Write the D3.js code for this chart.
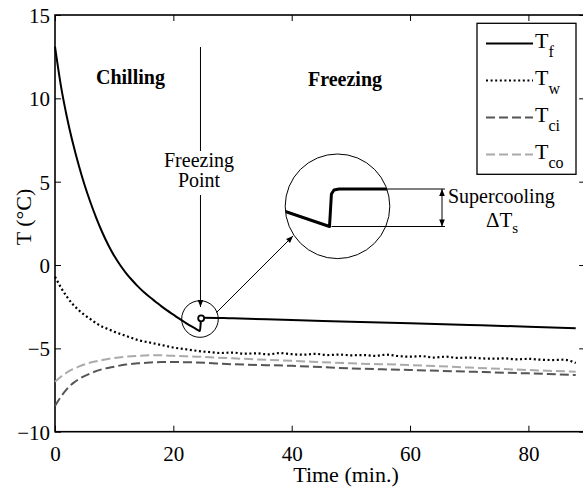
<!DOCTYPE html>
<html>
<head>
<meta charset="utf-8">
<script src="https://cdn.jsdelivr.net/npm/d3@7"></script>
<style>
  body { margin: 0; background: #fff; }
</style>
</head>
<body>
<div id="chart"></div>
<script>
// ---- DATA ----
const tF = [0, 1, 2, 3, 4, 5, 6, 7, 8, 9, 10, 11, 12, 13, 14, 15, 16, 17, 18, 19, 20, 21, 22, 23, 24, 24.5, 24.7, 25, 30, 40, 50, 60, 70, 80, 88];
const valF = [13.1, 10.75, 8.9, 7.35, 6.0, 4.8, 3.75, 2.8, 1.95, 1.2, 0.55, 0.0, -0.48, -0.9, -1.28, -1.62, -1.92, -2.2, -2.48, -2.74, -2.98, -3.22, -3.45, -3.67, -3.87, -3.96, -3.2, -3.16, -3.2, -3.3, -3.4, -3.5, -3.6, -3.7, -3.8];

const tW = [0, 1, 2, 3, 4, 5, 6, 7, 8, 9, 10, 12, 14, 16, 18, 20, 22, 24, 26, 28, 30, 32, 34, 36, 38, 40, 42, 44, 46, 48, 50, 52, 54, 56, 58, 60, 62, 64, 66, 68, 70, 72, 74, 76, 78, 80, 82, 84, 86, 88];
const valW = [-0.7, -1.35, -1.9, -2.35, -2.7, -3.0, -3.25, -3.5, -3.7, -3.85, -4.0, -4.25, -4.5, -4.65, -4.8, -4.95, -5.05, -5.15, -5.22, -5.28, -5.25, -5.32, -5.3, -5.36, -5.28, -5.35, -5.38, -5.33, -5.4, -5.37, -5.42, -5.4, -5.45, -5.38, -5.46, -5.5, -5.47, -5.55, -5.5, -5.57, -5.55, -5.6, -5.62, -5.6, -5.66, -5.63, -5.68, -5.7, -5.68, -5.88];

const tC = [0, 1, 2, 3, 4, 6, 8, 10, 12, 14, 16, 18, 20, 24, 30, 40, 50, 60, 70, 80, 88];
const valCi = [-8.45, -7.9, -7.45, -7.1, -6.85, -6.5, -6.25, -6.1, -5.97, -5.9, -5.85, -5.82, -5.82, -5.85, -5.95, -6.05, -6.2, -6.3, -6.4, -6.5, -6.6];
const valCo = [-7.0, -6.7, -6.45, -6.25, -6.1, -5.85, -5.7, -5.58, -5.5, -5.45, -5.42, -5.42, -5.45, -5.5, -5.6, -5.75, -5.9, -6.0, -6.15, -6.3, -6.4];

// magnified view of the freezing point (inset)
const tInset = [22.9, 24.5, 24.56, 24.64, 24.8, 27];
const valInset = [-3.6, -3.95, -3.3, -3.22, -3.2, -3.2];

const xTicks = [0, 20, 40, 60, 80];
const yTicks = [-10, -5, 0, 5, 10, 15];

const seriesNames = ["f", "w", "ci", "co"];

// ---- LAYOUT ----
const W = 583, H = 489;
const margin = { left: 55, right: 585.2, top: 15, bottom: 431.7 };
const FONT = "'Liberation Serif'";

const svg = d3.select("#chart").append("svg")
    .attr("width", W)
    .attr("height", H);

const defs = svg.append("defs");
defs.append("marker")
    .attr("id", "arr")
    .attr("viewBox", "0 -5 10 10")
    .attr("refX", 10).attr("refY", 0)
    .attr("markerUnits", "userSpaceOnUse")
    .attr("markerWidth", 8).attr("markerHeight", 7)
    .attr("orient", "auto-start-reverse")
    .append("path").attr("d", "M0,-4L10,0L0,4Z").attr("fill", "#000");

let x = d3.scaleLinear().domain([0, 89.6]).range([margin.left, margin.right]);
let y = d3.scaleLinear().domain([-10, 15]).range([margin.bottom, margin.top]);

const fmt = d => d < 0 ? "\u2212" + Math.abs(d) : String(d);

// ---- AXES ----
svg.append("g")
    .attr("transform", "translate(0," + margin.bottom + ")")
    .call(d3.axisBottom(x).tickValues(xTicks).tickSize(-6).tickPadding(10).tickFormat(fmt))
    .call(g => g.select(".domain").remove())
    .selectAll("text").style("font-size", "21px").attr("dy", "0.9em");

svg.append("g")
    .attr("transform", "translate(0," + margin.top + ")")
    .call(d3.axisTop(x).tickValues(xTicks).tickSize(-6).tickFormat(""))
    .call(g => g.select(".domain").remove());

svg.append("g")
    .attr("transform", "translate(" + margin.left + ",0)")
    .call(d3.axisLeft(y).tickValues(yTicks).tickSize(-6).tickPadding(5).tickFormat(fmt))
    .call(g => g.select(".domain").remove())
    .selectAll("text").style("font-size", "21px").attr("dy", "0.35em");

svg.append("g")
    .attr("transform", "translate(" + margin.right + ",0)")
    .call(d3.axisRight(y).tickValues(yTicks).tickSize(-6).tickFormat(""))
    .call(g => g.select(".domain").remove());

svg.selectAll(".tick line").attr("stroke", "#000").attr("stroke-width", 1);
svg.selectAll(".tick text").attr("fill", "#000");

svg.append("rect")
    .attr("x", margin.left).attr("y", margin.top)
    .attr("width", margin.right - margin.left).attr("height", margin.bottom - margin.top)
    .attr("fill", "none").attr("stroke", "#000").attr("stroke-width", 1.6);

svg.append("text")
    .attr("x", 346).attr("y", 482)
    .attr("text-anchor", "middle")
    .style("font-size", "22px")
    .text("Time (min.)");

svg.append("text")
    .attr("transform", "translate(31,217) rotate(-90)")
    .attr("text-anchor", "middle")
    .style("font-size", "22px")
    .text("T (\u00B0C)");

// ---- LINES ----
const line = d3.line()
    .x(d => x(d[0]))
    .y(d => y(d[1]))
    .curve(d3.curveMonotoneX);

const series = [
    { key: "co", data: d3.zip(tC, valCo), color: "#aaaaaa", dash: "9,4", width: 2 },
    { key: "ci", data: d3.zip(tC, valCi), color: "#555555", dash: "9,4", width: 2 },
    { key: "w",  data: d3.zip(tW, valW),  color: "#000000", dash: "2,2.6", width: 2.2 },
    { key: "f",  data: d3.zip(tF, valF),  color: "#000000", dash: null, width: 2 }
];

svg.selectAll(".series")
    .data(series)
    .enter()
    .append("path")
    .attr("class", "series")
    .attr("d", d => line(d.data))
    .attr("fill", "none")
    .attr("stroke", d => d.color)
    .attr("stroke-width", d => d.width)
    .attr("stroke-dasharray", d => d.dash);

// ---- ANNOTATIONS ----
svg.append("text")
    .attr("x", 96).attr("y", 84)
    .style("font-size", "20px").style("font-weight", "bold")
    .text("Chilling");

svg.append("text")
    .attr("x", 308).attr("y", 86)
    .style("font-size", "20px").style("font-weight", "bold")
    .text("Freezing");

svg.append("text")
    .attr("x", 199).attr("y", 166.5)
    .attr("text-anchor", "middle")
    .style("font-size", "20px")
    .text("Freezing");
svg.append("text")
    .attr("x", 199).attr("y", 186.5)
    .attr("text-anchor", "middle")
    .style("font-size", "20px")
    .text("Point");

// freezing point marker
const fpX = x(24.5), fpY = y(-3.24);
svg.append("line")
    .attr("x1", fpX + 0.5).attr("y1", 47).attr("x2", fpX + 0.5).attr("y2", 151)
    .attr("stroke", "#000").attr("stroke-width", 1);
svg.append("line")
    .attr("x1", fpX + 0.5).attr("y1", 195).attr("x2", fpX + 0.5).attr("y2", 307)
    .attr("stroke", "#000").attr("stroke-width", 1)
    .attr("marker-end", "url(#arr)");

svg.append("circle")
    .attr("cx", fpX).attr("cy", fpY).attr("r", 18.3)
    .attr("fill", "none").attr("stroke", "#000").attr("stroke-width", 1);
svg.append("circle")
    .attr("cx", x(24.7)).attr("cy", y(-3.2)).attr("r", 3)
    .attr("fill", "#fff").attr("stroke", "#000").attr("stroke-width", 1.8);

svg.append("line")
    .attr("x1", 216.5).attr("y1", 312.5).attr("x2", 293).attr("y2", 236)
    .attr("stroke", "#000").attr("stroke-width", 1)
    .attr("marker-end", "url(#arr)");

// inset (magnified)
const cx = 337.5, cy = 206.3, cr = 52.3;
let ix = d3.scaleLinear().domain([24.5, 25.5]).range([329.5, 361.5]);
let iy = d3.scaleLinear().domain([-3.95, -2.95]).range([226.5, 176.5]);

defs.append("clipPath").attr("id", "insetClip")
    .append("circle").attr("cx", cx).attr("cy", cy).attr("r", cr);

svg.append("circle")
    .attr("cx", cx).attr("cy", cy).attr("r", cr)
    .attr("fill", "#fff").attr("stroke", "#000").attr("stroke-width", 1);

svg.append("path")
    .attr("clip-path", "url(#insetClip)")
    .attr("d", d3.line().x(d => ix(d[0])).y(d => iy(d[1]))(d3.zip(tInset, valInset)))
    .attr("fill", "none").attr("stroke", "#000").attr("stroke-width", 3)
    .attr("stroke-linejoin", "round");

const yHi = iy(-3.2), yLo = iy(-3.95);
svg.append("line")
    .attr("x1", cx + Math.sqrt(cr * cr - (yHi - cy) * (yHi - cy))).attr("y1", yHi)
    .attr("x2", 445).attr("y2", yHi)
    .attr("stroke", "#000").attr("stroke-width", 1);
svg.append("line")
    .attr("x1", ix(24.5) + 2).attr("y1", yLo).attr("x2", 445).attr("y2", yLo)
    .attr("stroke", "#000").attr("stroke-width", 1);
svg.append("line")
    .attr("x1", 442).attr("y1", yHi).attr("x2", 442).attr("y2", yLo)
    .attr("stroke", "#000").attr("stroke-width", 1)
    .attr("marker-start", "url(#arr)").attr("marker-end", "url(#arr)");

svg.append("text")
    .attr("x", 448).attr("y", 203)
    .style("font-size", "20px")
    .text("Supercooling");
const dts = svg.append("text")
    .attr("x", 486).attr("y", 227)
    .style("font-size", "21px");
dts.append("tspan").text("\u0394T");
dts.append("tspan").attr("dy", 6).style("font-size", "15px").text("s");

// ---- LEGEND ----
const lg = svg.append("g");
lg.append("rect")
    .attr("x", 477).attr("y", 23.3)
    .attr("width", 99).attr("height", 151)
    .attr("fill", "#fff").attr("stroke", "#000").attr("stroke-width", 1.3);

const legendRows = seriesNames.map(k => series.find(s => s.key === k));
const rowY = d3.scalePoint().domain(seriesNames).range([43.5, 154.5]);

const rows = lg.selectAll(".lrow")
    .data(legendRows)
    .enter()
    .append("g")
    .attr("class", "lrow")
    .attr("transform", d => "translate(0," + rowY(d.key) + ")");

rows.append("line")
    .attr("x1", 486).attr("x2", 533)
    .attr("stroke", d => d.color)
    .attr("stroke-width", d => d.width)
    .attr("stroke-dasharray", d => d.dash);

const lt = rows.append("text")
    .attr("x", 535).attr("y", 4)
    .style("font-size", "22px");
lt.append("tspan").text("T");
lt.append("tspan").attr("dy", 9).style("font-size", "16px").text(d => d.key);

// serif font on every label
svg.selectAll("text").style("font-family", FONT);
</script>
</body>
</html>
